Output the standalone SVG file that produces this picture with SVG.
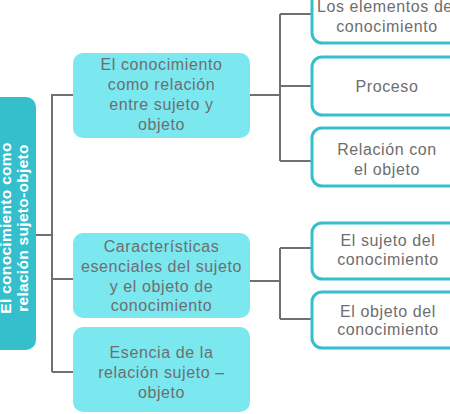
<svg xmlns="http://www.w3.org/2000/svg" width="450" height="414" viewBox="0 0 450 414">
<style>
.root{fill:#35bfcc;}
.lvl1{fill:#7be8f0;}
.lvl2{fill:#ffffff;stroke:#35bfcc;stroke-width:3;}
.t{font-family:"Liberation Sans",Arial,sans-serif;font-size:16px;letter-spacing:0.6px;fill:#6e6e6e;text-anchor:middle;}
.rt{font-family:"Liberation Sans",Arial,sans-serif;font-size:15.5px;letter-spacing:0.3px;font-weight:bold;fill:#ffffff;text-anchor:middle;}
.c{fill:none;stroke:#707070;stroke-width:2;}
</style>
<rect width="450" height="414" fill="#ffffff"/>
<g id="connectors">
<path class="c" d="M36 235H52M52 94V372M52 95H73M52 279H73M52 372H73"/>
<path class="c" d="M250 95H280M280 14V161M280 14H312M280 86H312M280 161H312"/>
<path class="c" d="M250 281H280M280 248V319M280 248H312M280 319H312"/>
</g>
<g id="root">
<rect class="root" x="-12" y="97" width="48" height="253" rx="10"/>
<text class="rt" transform="translate(11,228) rotate(-90)">El conocimiento como</text>
<text class="rt" transform="translate(28,228) rotate(-90)">relación sujeto-objeto</text>
</g>
<g id="n1">
<rect class="lvl1" x="73" y="53" width="177" height="85" rx="10"/>
<text class="t" x="161.5" y="70">El conocimiento</text>
<text class="t" x="161.5" y="90">como relación</text>
<text class="t" x="161.5" y="110">entre sujeto y</text>
<text class="t" x="161.5" y="130">objeto</text>
</g>
<g id="n2">
<rect class="lvl1" x="73" y="233" width="177" height="85" rx="10"/>
<text class="t" x="161.5" y="252">Características</text>
<text class="t" x="161.5" y="272">esenciales del sujeto</text>
<text class="t" x="161.5" y="292">y el objeto de</text>
<text class="t" x="161.5" y="311">conocimiento</text>
</g>
<g id="n3">
<rect class="lvl1" x="73" y="327" width="177" height="85" rx="10"/>
<text class="t" x="161.5" y="358">Esencia de la</text>
<text class="t" x="161.5" y="378">relación sujeto –</text>
<text class="t" x="161.5" y="398">objeto</text>
</g>
<g id="n4">
<rect class="lvl2" x="312" y="-15" width="152" height="58" rx="10"/>
<text class="t" x="387" y="12">Los elementos del</text>
<text class="t" x="387" y="32">conocimiento</text>
</g>
<g id="n5">
<rect class="lvl2" x="312" y="57" width="152" height="58" rx="10"/>
<text class="t" x="387" y="92">Proceso</text>
</g>
<g id="n6">
<rect class="lvl2" x="312" y="128" width="152" height="58" rx="10"/>
<text class="t" x="387" y="155">Relación con</text>
<text class="t" x="387" y="175">el objeto</text>
</g>
<g id="n7">
<rect class="lvl2" x="312" y="223" width="152" height="56" rx="10"/>
<text class="t" x="388" y="246">El sujeto del</text>
<text class="t" x="388" y="265">conocimiento</text>
</g>
<g id="n8">
<rect class="lvl2" x="312" y="292" width="152" height="56" rx="10"/>
<text class="t" x="388" y="317">El objeto del</text>
<text class="t" x="388" y="335">conocimiento</text>
</g>
</svg>
